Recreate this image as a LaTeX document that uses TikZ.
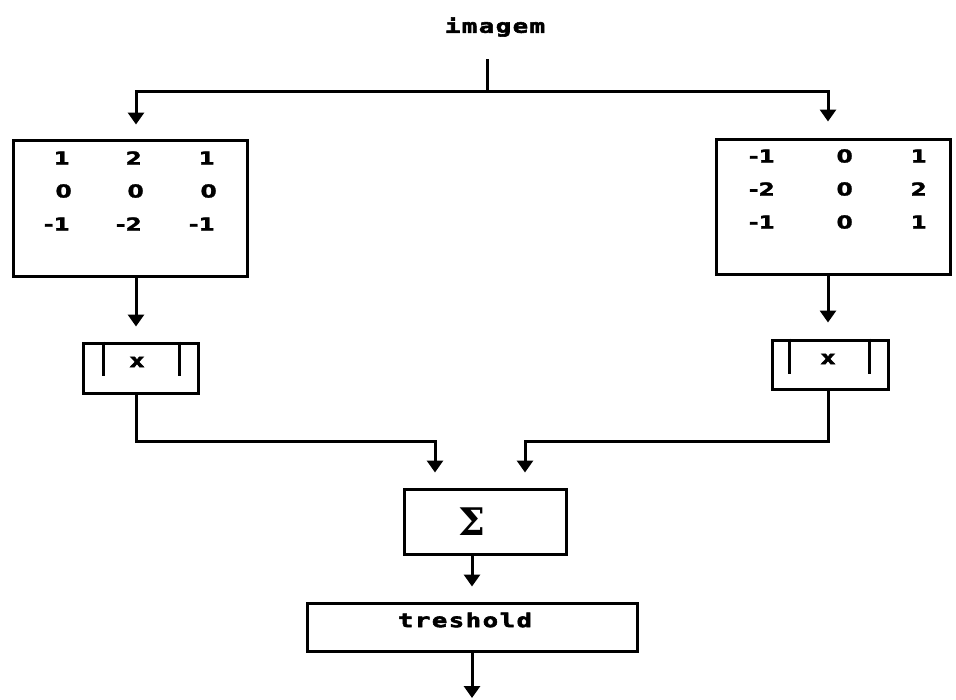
\documentclass[tikz,border=0pt]{standalone}
\usepackage[no-math]{fontspec}
\newfontfamily\dotfont[FakeStretch=1.35,FakeBold=3,LetterSpace=8]{DejaVu Sans Mono}
\newfontfamily\digfont[FakeStretch=1.3,FakeBold=1.5]{DejaVu Sans}
\newfontfamily\sigfont{DejaVu Serif}
\usetikzlibrary{arrows.meta,calc}
\tikzset{
  box/.style={draw, line width=3pt, inner sep=0pt, anchor=center},
  line/.style={line width=3pt},
  bar/.style={line width=2.5pt},
  arr/.style={line width=3pt, -{Triangle[width=16pt,length=12pt]}},
  lbl/.style={font=\dotfont\bfseries\fontsize{19}{19}\selectfont, inner sep=0pt},
  num/.style={font=\digfont\bfseries\fontsize{18}{18}\selectfont, inner sep=0pt, anchor=east},
}
\begin{document}
\begin{tikzpicture}[x=1pt,y=-1pt]
\useasboundingbox (0,0) rectangle (956,699);
% labels and boxes
\node[lbl] (img) at (495,27) {imagem};
\coordinate (top) at (487,59);
\coordinate (split) at (487,91);
\node[box, minimum width=234pt, minimum height=136pt] (L) at (130,208) {};
\node[box, minimum width=234pt, minimum height=135pt] (R) at (833,206.5) {};
\node[box, minimum width=115pt, minimum height=50pt] (L2) at (140.5,368) {};
\node[box, minimum width=116pt, minimum height=49pt] (R2) at (830,364.5) {};
\node[lbl] (Lx) at (137,362) {x};
\node[lbl] (Rx) at (828,359) {x};
\node[box, minimum width=162pt, minimum height=65pt] (S) at (485,521.5) {};
\node[font=\sigfont\bfseries\fontsize{38}{38}\selectfont, inner sep=0pt] (sig) at (472,522) {Σ};
\node[box, minimum width=330pt, minimum height=48pt] (T) at (472,627) {};
\node[lbl] (tl) at (465,620) {treshold};
\coordinate (out) at (472,698);
% bars in small boxes
\draw[bar] ([xshift=22pt]L2.north west) -- ++(0,34);
\draw[bar] ([xshift=-20pt]L2.north east) -- ++(0,34);
\draw[bar] ([xshift=19pt]R2.north west) -- ++(0,35);
\draw[bar] ([xshift=-20pt]R2.north east) -- ++(0,35);
% matrix entries left
\node[num] (a11) at (70,158) {1};
\node[num] (a12) at (142,158) {2};
\node[num] (a13) at (215,158) {1};
\node[num] (a21) at (72,191) {0};
\node[num] (a22) at (144,191) {0};
\node[num] (a23) at (217,191) {0};
\node[num] (a31) at (70,224) {-1};
\node[num] (a32) at (142,224) {-2};
\node[num] (a33) at (215,224) {-1};
% matrix entries right
\node[num] (b11) at (775,156) {-1};
\node[num] (b12) at (853,156) {0};
\node[num] (b13) at (927,156) {1};
\node[num] (b21) at (775,189) {-2};
\node[num] (b22) at (853,189) {0};
\node[num] (b23) at (927,189) {2};
\node[num] (b31) at (775,222) {-1};
\node[num] (b32) at (853,222) {0};
\node[num] (b33) at (927,222) {1};
% connector x positions
\coordinate (xl) at (136,0);
\coordinate (xr) at (828,0);
\coordinate (sl) at (435,0);
\coordinate (sr) at (525,0);
\coordinate (xs) at (472,0);
\coordinate (midy) at (0,441);
% connectors
\draw[line] (top) -- (split);
\draw[arr, shorten >=14pt] (split) -| (xl |- L.north);
\draw[arr, shorten >=16pt] (split) -| (xr |- R.north);
\draw[arr, shorten >=15pt] (xl |- L.south) -- (xl |- L2.north);
\draw[arr, shorten >=16pt] (xr |- R.south) -- (xr |- R2.north);
\draw[arr, shorten >=15pt] (xl |- L2.south) |- (sl |- midy) -- (sl |- S.north);
\draw[arr, shorten >=15pt] (xr |- R2.south) |- (sr |- midy) -- (sr |- S.north);
\draw[arr, shorten >=15pt] (xs |- S.south) -- (xs |- T.north);
\draw[arr] (xs |- T.south) -- (out);
\end{tikzpicture}
\end{document}
